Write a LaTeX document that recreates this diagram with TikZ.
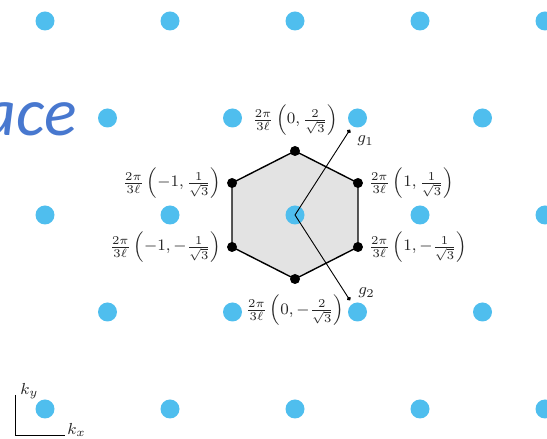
\documentclass[tikz,border=0pt]{standalone}
\usepackage{amsmath,amssymb}
\usepackage{fontspec}
\usepackage{tikz}
\usetikzlibrary{arrows.meta,positioning,calc}
\newfontfamily\slidefont{Carlito}
\definecolor{latblue}{RGB}{79,190,238}
\definecolor{slideblue}{RGB}{72,120,207}
\tikzset{
	latdot/.style={circle, fill=latblue, inner sep=0pt, minimum size=9.5pt},
	vtxdot/.style={circle, fill=black, inner sep=0pt, minimum size=5pt},
	bzlabel/.style={inner sep=1pt, text=black!85, font=\fontsize{8.5}{10}\selectfont},
	recvec/.style={-{Circle[length=2pt]}, line width=0.45pt},
	axisline/.style={line width=0.5pt}
}

\begin{document}
\begin{tikzpicture}[x=0.5pt, y=0.5pt, node distance=4pt]
			\useasboundingbox (0,0) rectangle (547,439);
			\node[anchor=base east, inner sep=0pt, text=slideblue, font=\slidefont\itshape\fontsize{34}{40}\selectfont] (title) at (77,303) {ace};
			\coordinate (O) at (295,224);
			\foreach \a [count=\n] in {90,30,-30,-90,-150,150}
				\coordinate (v\n) at ($(O)+(\a:72.7 and 64)$);
			\draw[fill=black!11, line width=0.7pt] (v1)--(v2)--(v3)--(v4)--(v5)--(v6)--cycle;
			\foreach \j/\y in {1/418,3/224,5/30}
				\foreach \i in {0,...,4}
					\node[latdot] (k\j\i) at ({45+125*\i},\y) {};
			\foreach \j/\y in {2/321,4/127}
				\foreach \i in {0,...,3}
					\node[latdot] (k\j\i) at ({107.5+125*\i},\y) {};
			\foreach \n in {1,...,6}
				\node[vtxdot] (p\n) at (v\n) {};
			\coordinate (g1) at ($(O)!0.88!(k22)$);
			\coordinate (g2) at ($(O)!0.88!(k42)$);
			\draw[recvec] (O)--(g1);
			\draw[recvec] (O)--(g2);
			\node[bzlabel, below right=2pt and 2.5pt of g1] (g1l) {$g_1$};
			\node[bzlabel, above right=0pt and 3pt of g2] (g2l) {$g_2$};
			\node[bzlabel, above=4pt of p1] (l1) {$\frac{2\pi}{3\ell}\left(0,\frac{2}{\sqrt{3}}\right)$};
			\node[bzlabel, right=1.5pt of p2] (l2) {$\frac{2\pi}{3\ell}\left(1,\frac{1}{\sqrt{3}}\right)$};
			\node[bzlabel, right=1.5pt of p3] (l3) {$\frac{2\pi}{3\ell}\left(1,-\frac{1}{\sqrt{3}}\right)$};
			\node[bzlabel, below=4pt of p4] (l4) {$\frac{2\pi}{3\ell}\left(0,-\frac{2}{\sqrt{3}}\right)$};
			\node[bzlabel, left=1.5pt of p5] (l5) {$\frac{2\pi}{3\ell}\left(-1,-\frac{1}{\sqrt{3}}\right)$};
			\node[bzlabel, left=1.5pt of p6] (l6) {$\frac{2\pi}{3\ell}\left(-1,\frac{1}{\sqrt{3}}\right)$};
			\coordinate (ax0) at (15,3);
			\coordinate (axy) at (15,44);
			\coordinate (axx) at (65,3);
			\draw[axisline] (axy)--(ax0)--(axx);
			\node[bzlabel, font=\footnotesize, above right=-3pt and 1.5pt of axy] (ky) {$k_y$};
			\node[bzlabel, font=\footnotesize, right=0pt of axx, yshift=3pt] (kx) {$k_x$};
		\end{tikzpicture}
\end{document}
